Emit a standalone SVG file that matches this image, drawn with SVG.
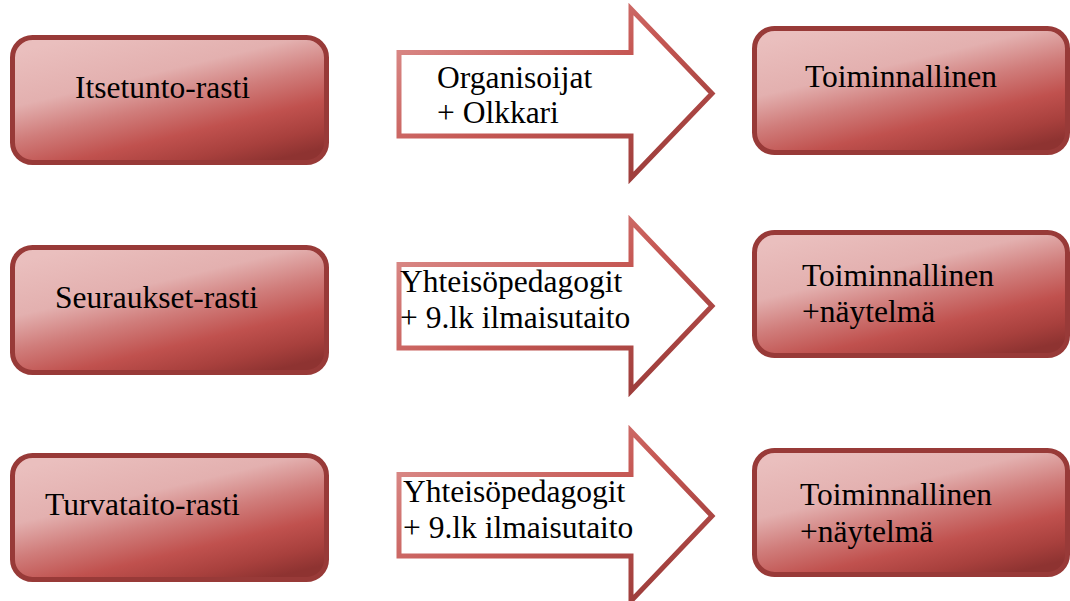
<svg xmlns="http://www.w3.org/2000/svg" width="1070" height="601" viewBox="0 0 1070 601">
<defs>
<linearGradient id="boxFill" x1="0.2" y1="0" x2="0.8" y2="1">
<stop offset="0" stop-color="#eabfbe"/>
<stop offset="0.32" stop-color="#e3b0af"/>
<stop offset="0.52" stop-color="#d07d7b"/>
<stop offset="0.72" stop-color="#c0514e"/>
<stop offset="0.88" stop-color="#a8403d"/>
<stop offset="1" stop-color="#8e3331"/>
</linearGradient>
<linearGradient id="arrowStroke" x1="0" y1="0" x2="1" y2="1">
<stop offset="0" stop-color="#de9593"/>
<stop offset="0.5" stop-color="#c55753"/>
<stop offset="1" stop-color="#923634"/>
</linearGradient>
<style>
.box{fill:url(#boxFill);stroke:#983a38;stroke-width:5}
.arrow{fill:#ffffff;stroke:url(#arrowStroke);stroke-width:5;stroke-linejoin:miter}
.t{font-size:31.5px;fill:#000000}
</style>
</defs>
<g id="connectors" font-family="'Liberation Serif', 'DejaVu Serif', 'Times New Roman', serif">
<g id="arrow1">
<path class="arrow" d="M399,52.5 L631,52.5 L631,9 L712,93.5 L631,178 L631,136 L399,136 Z"/>
<text class="t" x="437" y="88">Organisoijat</text>
<text class="t" x="437" y="123">+ Olkkari</text>
</g>
<g id="arrow2">
<path class="arrow" d="M399,264.5 L631,264.5 L631,221 L712,306 L631,391 L631,348 L399,348 Z"/>
<text class="t" x="400" y="292">Yhteisöpedagogit</text>
<text class="t" x="400" y="328">+ 9.lk ilmaisutaito</text>
</g>
<g id="arrow3">
<path class="arrow" d="M399,474.5 L631,474.5 L631,431 L712,516 L631,601 L631,556 L399,556 Z"/>
<text class="t" x="403" y="502">Yhteisöpedagogit</text>
<text class="t" x="403" y="538">+ 9.lk ilmaisutaito</text>
</g>
</g>
<g id="nodes" font-family="'Liberation Serif', 'DejaVu Serif', 'Times New Roman', serif">
<g id="node-itsetunto">
<rect class="box" x="12.5" y="37.5" width="314" height="125" rx="20"/>
<text class="t" x="75" y="98">Itsetunto-rasti</text>
</g>
<g id="node-seuraukset">
<rect class="box" x="12.5" y="247.5" width="314" height="125" rx="20"/>
<text class="t" x="55" y="308">Seuraukset-rasti</text>
</g>
<g id="node-turvataito">
<rect class="box" x="12.5" y="455.5" width="314" height="124" rx="20"/>
<text class="t" x="45" y="515">Turvataito-rasti</text>
</g>
<g id="node-toiminnallinen1">
<rect class="box" x="754.5" y="28.5" width="313" height="124" rx="20"/>
<text class="t" x="805" y="87">Toiminnallinen</text>
</g>
<g id="node-toiminnallinen2">
<rect class="box" x="754.5" y="232.5" width="313" height="123" rx="20"/>
<text class="t" x="802" y="286">Toiminnallinen</text>
<text class="t" x="802" y="322">+näytelmä</text>
</g>
<g id="node-toiminnallinen3">
<rect class="box" x="754.5" y="450.5" width="313" height="124" rx="20"/>
<text class="t" x="800" y="505">Toiminnallinen</text>
<text class="t" x="800" y="542">+näytelmä</text>
</g>
</g>
</svg>
